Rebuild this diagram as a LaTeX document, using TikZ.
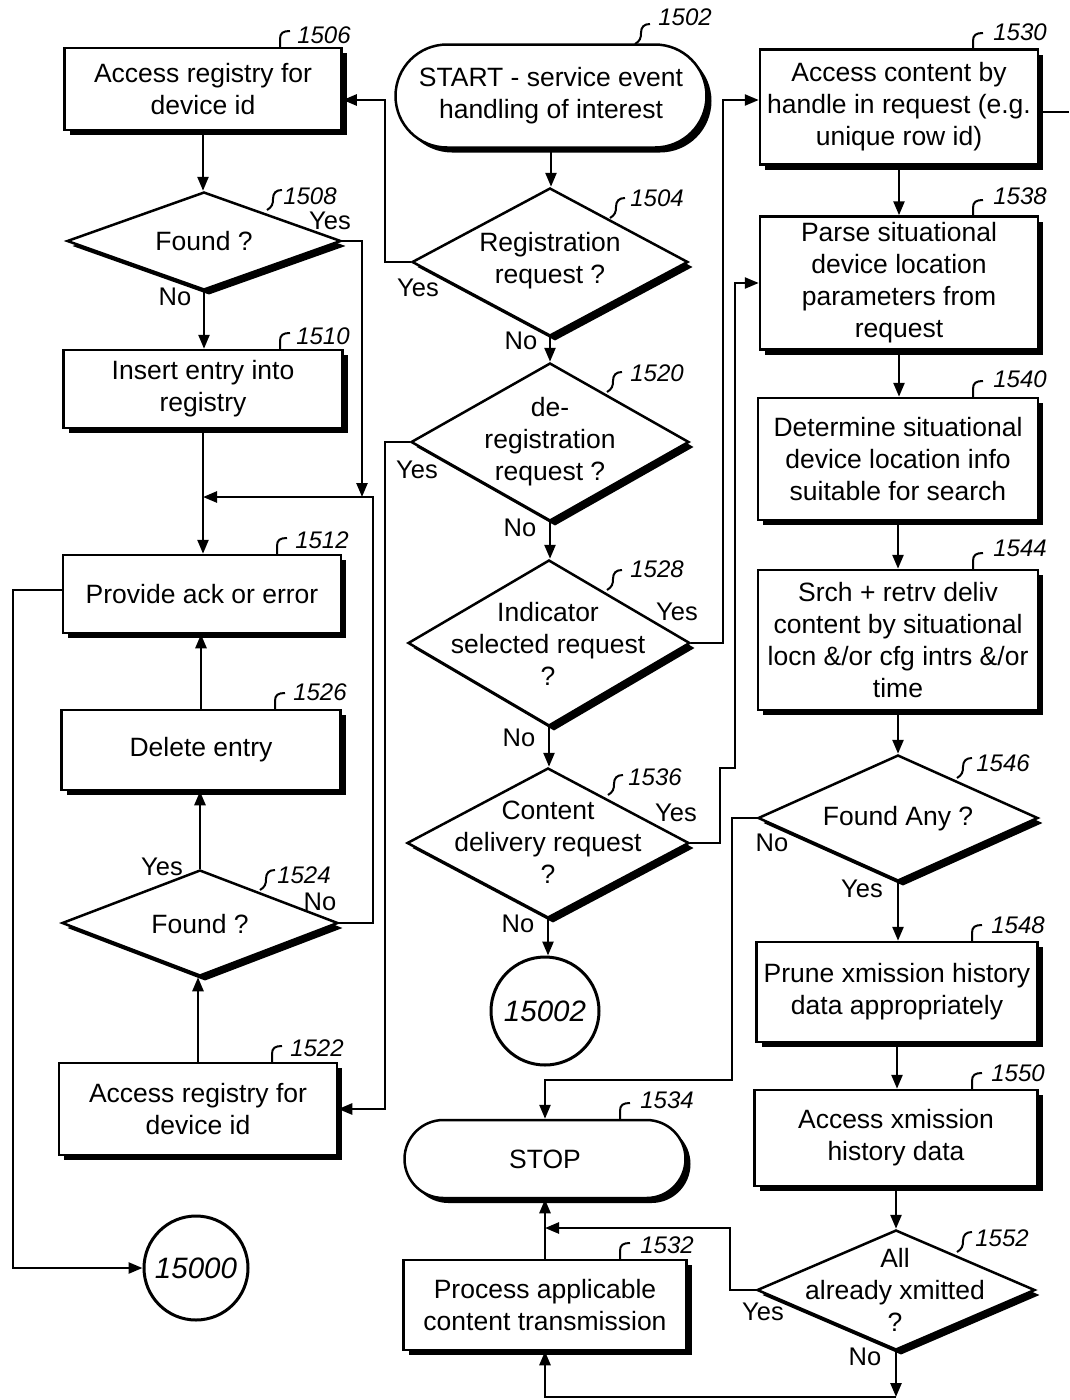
\documentclass[tikz,border=0pt]{standalone}
\usepackage{fontspec}
\setmainfont{Liberation Sans}
\usetikzlibrary{arrows.meta,shapes.geometric,shapes.misc,shadows}
\newcommand\bhook[2]{\draw[hk] (#1,#2) -- (#1,{#2-9}) .. controls (#1,{#2-15}) and ({#1+3},{#2-17}) .. ({#1+10},{#2-17});}
\newcommand\dhook[2]{\draw[hk] (#1,#2) .. controls ({#1+5},{#2-3}) and ({#1+6},{#2-6}) .. ({#1+6},{#2-11}) .. controls ({#1+6},{#2-17}) and ({#1+9},{#2-20}) .. ({#1+15},{#2-20});}
\begin{document}
\begin{tikzpicture}[x=1pt,y=-1pt,
  every node/.style={font=\fontsize{26.5}{32}\selectfont, inner sep=1pt},
  shad/.style={drop shadow={shadow xshift=5pt,shadow yshift=-5pt,fill=black,opacity=1}},
  proc/.style={draw, line width=2.5pt, fill=white, rectangle, shad, align=center, inner sep=2pt},
  dec/.style={draw, line width=2.5pt, fill=white, diamond, shad, inner sep=0pt},
  dtext/.style={align=center, inner sep=0pt},
  term/.style={draw, line width=2.5pt, fill=white, rounded rectangle, shad, align=center},
  conn/.style={draw, circle, line width=3pt, fill=white, font=\fontsize{29.5}{32}\selectfont\itshape, inner sep=0pt},
  arr/.style={line width=2.5pt, -{Triangle[length=14pt,width=11pt]}},
  ln/.style={line width=2.5pt},
  yn/.style={font=\fontsize{25.5}{30}\selectfont, inner sep=0pt},
  refnum/.style={font=\fontsize{24}{28}\selectfont\itshape, inner sep=1pt},
  hk/.style={line width=2pt}
]
\fill[white] (0,0) rectangle (1069,1400);
\useasboundingbox (0,0) rectangle (1069,1400);

% ---------- left column ----------
\node[proc, minimum width=277pt, minimum height=82pt] (b1506) at (203,89) {Access registry for\\device id};
\node[dec, minimum width=274pt, minimum height=98pt] (d1508) at (204,241) {};
\node[dtext] (t1508) at (204,241) {Found ?};
\node[proc, minimum width=279pt, minimum height=78pt] (b1510) at (203,389) {Insert entry into\\registry};
\node[proc, minimum width=278pt, minimum height=78pt] (b1512) at (202,594) {Provide ack or error};
\node[proc, minimum width=279pt, minimum height=80pt] (b1526) at (201,750) {Delete entry};
\node[dec, minimum width=276pt, minimum height=106pt] (d1524) at (200,923) {};
\node[dtext] (t1524) at (200,924) {Found ?};
\node[proc, minimum width=278pt, minimum height=92pt] (b1522) at (198,1109) {Access registry for\\device id};
\node[conn, minimum size=104pt] (c15000) at (196,1268) {15000};

% ---------- middle column ----------
\node[term, minimum width=313pt, minimum height=103pt] (s1502) at (551,96) {START - service event\\handling of interest};
\node[dec, minimum width=276pt, minimum height=148pt] (d1504) at (550,262) {};
\node[dtext] (t1504) at (550,261) {Registration\\request ?};
\node[dec, minimum width=278pt, minimum height=158pt] (d1520) at (550,442) {};
\node[dtext] (t1520) at (550,442) {de-\\registration\\request ?};
\node[dec, minimum width=282pt, minimum height=166pt] (d1528) at (549,643) {};
\node[dtext] (t1528) at (548,644) {Indicator\\selected request\\?};
\node[dec, minimum width=282pt, minimum height=150pt] (d1536) at (548,843) {};
\node[dtext] (t1536) at (548,842) {Content\\delivery request\\?};
\node[conn, minimum size=108pt] (c15002) at (545,1011) {15002};
\node[term, minimum width=283pt, minimum height=78pt] (s1534) at (545,1159) {STOP};
\node[proc, minimum width=283pt, minimum height=90pt] (b1532) at (545,1305) {Process applicable\\content transmission};

% ---------- right column ----------
\node[proc, minimum width=278pt, minimum height=115pt] (b1530) at (899,107) {Access content by\\handle in request (e.g.\\unique row id)};
\node[proc, minimum width=278pt, minimum height=133pt] (b1538) at (899,283) {Parse situational\\device location\\parameters from\\request};
\node[proc, minimum width=280pt, minimum height=122pt] (b1540) at (898,459) {Determine situational\\device location info\\suitable for search};
\node[proc, minimum width=280pt, minimum height=140pt] (b1544) at (898,640) {Srch + retrv deliv\\content by situational\\locn \&/or cfg intrs \&/or\\time};
\node[dec, minimum width=280pt, minimum height=126pt] (d1546) at (898,818) {};
\node[dtext] (t1546) at (898,819) {Found Any ?};
\node[proc, minimum width=281pt, minimum height=100pt] (b1548) at (897,992) {Prune xmission history\\data appropriately};
\node[proc, minimum width=283pt, minimum height=96pt] (b1550) at (896,1138) {Access xmission\\history data};
\node[dec, minimum width=278pt, minimum height=120pt] (d1552) at (896,1290) {};
\node[dtext] (t1552) at (895,1290) {All\\already xmitted\\?};

% ---------- junction coordinates ----------
\coordinate (j1) at (362,497);
\coordinate (j2) at (b1510.south |- j1);
\coordinate (j3) at (545,1228);
\coordinate (j4) at (d1552.south |- 0,1397);
\coordinate (stub) at (1069,112);

% ---------- connectors ----------
% middle
\draw[arr] (s1502.south) -- (s1502.south |- d1504.north);
\draw[arr] (d1504.west) -- (385,262) |- (b1506.east |- 0,100);
\draw[arr] (d1504.south) -- (d1504.south |- d1520.north);
\draw[arr] (d1520.west) -- (385,442) |- (b1522.east);
\draw[arr] (d1520.south) -- (d1520.south |- d1528.north);
\draw[arr] (d1528.east) -- (723,643) |- (b1530.west |- 0,100);
\draw[arr] (d1528.south) -- (d1528.south |- d1536.north);
\draw[arr] (d1536.east) -- (720,843) |- (735,768) |- (b1538.west);
\draw[arr] (d1536.south) -- (d1536.south |- c15002.north);
% left
\draw[arr] (b1506.south) -- (b1506.south |- d1508.north);
\draw[arr] (d1508.south) -- (d1508.south |- b1510.north);
\draw[arr] (d1508.east) -| (j1);
\draw[arr] (d1524.east) -| (373,497) -- (j2);
\draw[arr] (b1510.south) -- (b1510.south |- b1512.north);
\draw[arr] (b1512.west |- 0,590) -| (13,1268) -- (c15000.west);
\draw[arr] (b1526.north) -- (b1526.north |- b1512.south);
\draw[arr] (d1524.north) -- (d1524.north |- b1526.south);
\draw[arr] (b1522.north) -- (b1522.north |- d1524.south);
% right
\draw[ln] (b1530.east |- stub) -- (stub);
\draw[arr] (b1530.south) -- (b1530.south |- b1538.north);
\draw[arr] (b1538.south) -- (b1538.south |- b1540.north);
\draw[arr] (b1540.south) -- (b1540.south |- b1544.north);
\draw[arr] (b1544.south) -- (b1544.south |- d1546.north);
\draw[arr] (d1546.south) -- (d1546.south |- b1548.north);
\draw[arr] (b1548.south) -- (b1548.south |- b1550.north);
\draw[arr] (b1550.south) -- (b1550.south |- d1552.north);
\draw[arr] (d1546.west) -| (732,1080) -| (s1534.north);
\draw[arr] (b1532.north) -- (s1534.south);
\draw[arr] (d1552.west) -| (730,1228) -- (j3);
\draw[arr] (d1552.south) -- (j4);
\draw[arr] (j4) -| (b1532.south);

% ---------- yes / no ----------
\node[yn] (y1508) at (330,221) {Yes};
\node[yn] (n1508) at (175,297) {No};
\node[yn] (y1504) at (418,288) {Yes};
\node[yn] (n1504) at (521,341) {No};
\node[yn] (y1520) at (417,470) {Yes};
\node[yn] (n1520) at (520,528) {No};
\node[yn] (y1528) at (677,612) {Yes};
\node[yn] (n1528) at (519,738) {No};
\node[yn] (y1536) at (676,813) {Yes};
\node[yn] (n1536) at (518,924) {No};
\node[yn] (y1524) at (162,867) {Yes};
\node[yn] (n1524) at (320,902) {No};
\node[yn] (n1546) at (772,843) {No};
\node[yn] (y1546) at (862,889) {Yes};
\node[yn] (y1552) at (763,1312) {Yes};
\node[yn] (n1552) at (865,1357) {No};

% ---------- reference numerals ----------
\node[refnum] (l1506) at (324,35) {1506};
\node[refnum] (l1508) at (310,196) {1508};
\node[refnum] (l1510) at (323,336) {1510};
\node[refnum] (l1512) at (322,540) {1512};
\node[refnum] (l1526) at (320,692) {1526};
\node[refnum] (l1524) at (304,875) {1524};
\node[refnum] (l1522) at (317,1048) {1522};
\node[refnum] (l1502) at (685,17) {1502};
\node[refnum] (l1504) at (657,198) {1504};
\node[refnum] (l1520) at (657,373) {1520};
\node[refnum] (l1528) at (657,569) {1528};
\node[refnum] (l1536) at (655,777) {1536};
\node[refnum] (l1534) at (667,1100) {1534};
\node[refnum] (l1532) at (667,1245) {1532};
\node[refnum] (l1530) at (1020,32) {1530};
\node[refnum] (l1538) at (1020,196) {1538};
\node[refnum] (l1540) at (1020,379) {1540};
\node[refnum] (l1544) at (1020,548) {1544};
\node[refnum] (l1546) at (1003,763) {1546};
\node[refnum] (l1548) at (1018,925) {1548};
\node[refnum] (l1550) at (1018,1073) {1550};
\node[refnum] (l1552) at (1002,1238) {1552};

\bhook{280}{48}
\bhook{280}{350}
\bhook{277}{555}
\bhook{275}{710}
\bhook{272}{1063}
\bhook{620}{1120}
\bhook{620}{1260}
\bhook{973}{50}
\bhook{973}{217}
\bhook{973}{398}
\bhook{973}{570}
\bhook{972}{942}
\bhook{972}{1090}
\dhook{267}{210}
\dhook{260}{890}
\dhook{635}{44}
\dhook{610}{218}
\dhook{607}{392}
\dhook{607}{590}
\dhook{608}{795}
\dhook{957}{778}
\dhook{957}{1252}
\end{tikzpicture}
\end{document}
